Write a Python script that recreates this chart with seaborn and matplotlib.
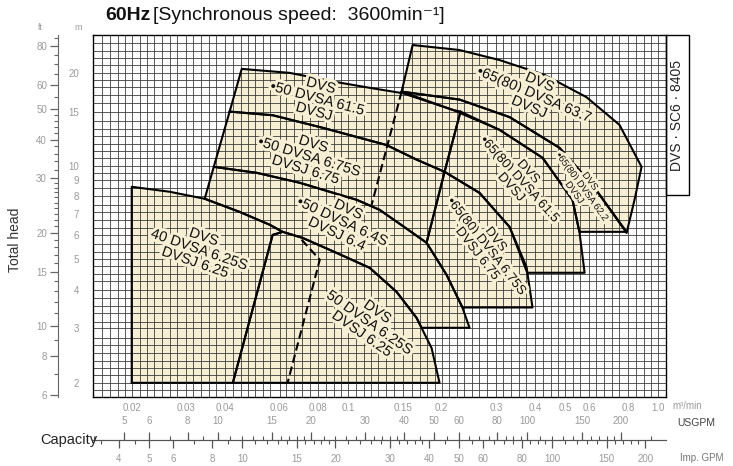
import matplotlib
matplotlib.use("Agg")
import matplotlib.pyplot as plt
import matplotlib.patheffects as pe
from matplotlib.patches import Rectangle
from matplotlib.ticker import FixedLocator, NullFormatter
import seaborn as sns
import pandas as pd

# log paper steps per decade (R40 series)
r40 = [1.0, 1.06, 1.12, 1.18, 1.25, 1.32, 1.4, 1.5, 1.6, 1.7, 1.8, 1.9,
       2.0, 2.12, 2.24, 2.36, 2.5, 2.65, 2.8, 3.0, 3.15, 3.35, 3.55, 3.75,
       4.0, 4.25, 4.5, 4.75, 5.0, 5.3, 5.6, 6.0, 6.3, 6.7, 7.1, 7.5,
       8.0, 8.5, 9.0, 9.5]

# tick values / labels
q_ticks = [0.02, 0.03, 0.04, 0.06, 0.08, 0.1, 0.15, 0.2, 0.3, 0.4, 0.5, 0.6, 0.8, 1.0]
q_labels = ["0.02", "0.03", "0.04", "0.06", "0.08", "0.1", "0.15", "0.2",
            "0.3", "0.4", "0.5", "0.6", "0.8", "1.0"]
h_ticks = [2, 3, 4, 5, 6, 7, 8, 9, 10, 15, 20]
ft_major = [6, 8, 10, 15, 20, 30, 40, 50, 60, 80]
ft_minor = [7, 9, 11, 12, 13, 14, 16, 17, 18, 19, 21, 22, 23, 24, 25, 26, 27, 28, 29,
            32, 34, 36, 38, 42, 44, 46, 48, 55, 65, 70, 75, 85]
us_major = [5, 6, 8, 10, 15, 20, 30, 40, 50, 60, 80, 100, 150, 200]
us_minor = [4, 7, 9, 11, 12, 13, 14, 16, 17, 18, 19, 22, 24, 26, 28, 32, 34, 36, 38,
            45, 55, 65, 70, 75, 85, 90, 95, 110, 120, 130, 140, 160, 170, 180, 190, 250]
imp_major = [4, 5, 6, 8, 10, 15, 20, 30, 40, 50, 60, 80, 100, 150, 200]
imp_minor = [3.5, 4.5, 7, 9, 11, 12, 13, 14, 16, 17, 18, 19, 22, 24, 26, 28, 32, 34, 36, 38,
             45, 55, 65, 70, 75, 85, 90, 95, 110, 120, 130, 140, 160, 170, 180, 190]

# selection regions: capacity (m3/min) and total head (m) of each outline
q_40_625 = [0.02, 0.02, 0.0265, 0.0344, 0.0446, 0.0558, 0.0614, 0.057, 0.0424]
h_40_625 = [2.0, 8.58, 8.27, 7.85, 7.12, 6.47, 6.14, 6.0, 2.0]

q_50_625 = [0.0424, 0.057, 0.0614, 0.0712, 0.0917, 0.1172, 0.1432, 0.1661, 0.1857, 0.197]
h_50_625 = [2.0, 6.0, 6.14, 5.87, 5.25, 4.70, 3.93, 3.24, 2.59, 2.0]

q_50_64 = [0.0344, 0.0368, 0.0506, 0.0697, 0.087, 0.1064, 0.1262, 0.1497, 0.1789, 0.2076,
           0.2337, 0.2462, 0.1724, 0.1661, 0.1432, 0.1172, 0.0917, 0.0712, 0.0614, 0.0558, 0.0446]
h_50_64 = [7.85, 9.95, 9.52, 8.84, 8.27, 7.79, 7.23, 6.42, 5.66, 4.46,
           3.49, 3.01, 3.01, 3.24, 3.93, 4.70, 5.25, 5.87, 6.14, 6.47, 7.12]

q_50_675 = [0.0368, 0.0414, 0.057, 0.0827, 0.1329, 0.1661, 0.2045, 0.1789,
            0.1497, 0.1262, 0.1064, 0.087, 0.0697, 0.0506]
h_50_675 = [9.95, 15.0, 14.6, 13.3, 11.7, 10.5, 9.59, 5.66,
            6.42, 7.23, 7.79, 8.27, 8.84, 9.52]

q_50_615 = [0.0414, 0.0453, 0.0647, 0.0938, 0.1172, 0.1497, 0.217, 0.2302, 0.2045,
            0.1661, 0.1329, 0.0827, 0.057]
h_50_615 = [15.0, 20.6, 20.0, 18.6, 17.9, 17.2, 15.2, 15.0, 9.59,
            10.5, 11.7, 13.3, 14.6]

q_65_675 = [0.2045, 0.1789, 0.2076, 0.2337, 0.3931, 0.376, 0.3314, 0.2652]
h_65_675 = [9.59, 5.66, 4.46, 3.5, 3.5, 4.73, 6.37, 8.20]

q_65_615 = [0.2302, 0.2045, 0.2652, 0.3314, 0.378, 0.579, 0.557, 0.529, 0.4236, 0.3077]
h_65_615 = [15.0, 9.59, 8.20, 6.37, 4.53, 4.53, 6.14, 7.79, 10.64, 13.1]

q_65_622 = [0.1486, 0.217, 0.3077, 0.4236, 0.529, 0.557, 0.791, 0.614, 0.4805, 0.3314, 0.2286]
h_65_622 = [17.4, 15.2, 13.1, 10.64, 7.79, 6.14, 6.14, 8.70, 11.46, 14.4, 16.4]

q_65_637 = [0.1486, 0.1613, 0.2286, 0.3077, 0.43, 0.587, 0.75, 0.884, 0.839, 0.791,
            0.614, 0.4805, 0.3314, 0.2286]
h_65_637 = [17.4, 24.6, 23.7, 22.0, 19.7, 16.7, 13.6, 9.95, 7.79, 6.09,
            8.70, 11.46, 14.4, 16.4]

# dashed boundaries
q_dash_50 = [0.0707, 0.0809, 0.0637]
h_dash_50 = [5.79, 4.99, 2.0]
q_dash_65 = [0.1486, 0.1189]
h_dash_65 = [17.4, 7.50]

# region labels: text, capacity, head, rotation, size
labels = [
    ("DVS\n40 DVSA 6.25S\nDVSJ 6.25", 0.0331, 5.37, -19, 10.5),
    ("DVS\n50 DVSA 6.25S\nDVSJ 6.25", 0.1172, 3.12, -35, 10.5),
    ("DVS\n•50 DVSA 6.4S\nDVSJ 6.4", 0.0959, 6.61, -25, 10.5),
    ("DVS\n•50 DVSA 6.75S\nDVSJ 6.75", 0.075, 10.7, -17, 10.5),
    ("DVS\n•50 DVSA 61.5\nDVSJ", 0.0796, 16.5, -15, 10.5),
    ("DVS\n•65(80) DVSA 63.7\nDVSJ", 0.399, 17.0, -23, 10.5),
    ("DVS\n•65(80) DVSA 62.2\nDVSJ", 0.570, 8.58, -54, 7),
    ("DVS\n•65(80) DVSA 61.5\nDVSJ", 0.357, 9.03, -48, 9.5),
    ("DVS\n•65(80) DVSA 6.75S\nDVSJ 6.75", 0.279, 5.49, -52, 9.5),
]

regions = [
    ("40 6.25S", q_40_625, h_40_625),
    ("50 6.25S", q_50_625, h_50_625),
    ("50 6.4S", q_50_64, h_50_64),
    ("50 6.75S", q_50_675, h_50_675),
    ("50 61.5", q_50_615, h_50_615),
    ("65 6.75S", q_65_675, h_65_675),
    ("65 61.5", q_65_615, h_65_615),
    ("65 62.2", q_65_622, h_65_622),
    ("65 63.7", q_65_637, h_65_637),
]

sns.set_style("white")
plt.rcParams["font.family"] = ["Liberation Sans", "DejaVu Sans"]

CREAM = "#f7efd4"
GRAY = "#9a9a9a"

fig = plt.figure(figsize=(7.33, 4.66), dpi=100)
ax = fig.add_axes([93 / 733, 69 / 466, 573 / 733, 362 / 466])
ax.set_xscale("log")
ax.set_yscale("log")
ax.set_xlim(0.015, 1.06)
ax.set_ylim(1.8, 26.5)

rows = []
for name, q, h in regions:
    ax.fill(q, h, color=CREAM, lw=0, zorder=0.2)
    for i, (a, b) in enumerate(zip(q + q[:1], h + h[:1])):
        rows.append({"region": name, "i": i, "q": a, "h": b})
outline = pd.DataFrame(rows)
sns.lineplot(data=outline, x="q", y="h", units="region", estimator=None, sort=False,
             color="black", lw=1.5, ax=ax, zorder=2)
ax.plot(q_dash_50, h_dash_50, color="black", lw=1.5, ls=(0, (4, 2)), zorder=2)
ax.plot(q_dash_65, h_dash_65, color="black", lw=1.5, ls=(0, (4, 2)), zorder=2)

for txt, q, h, rot, size in labels:
    ax.text(q, h, txt, rotation=rot, rotation_mode="anchor", ha="center", va="center",
            fontsize=size, linespacing=0.95, zorder=3, color="#111",
            path_effects=[pe.withStroke(linewidth=4.5, foreground=CREAM)])

# grid on the R40 steps only
grid_q = [v * 10 ** k for k in (-2, -1, 0) for v in r40 if 0.015 <= v * 10 ** k <= 1.06]
grid_h = [v * 10 ** k for k in (0, 1) for v in r40 if 1.8 <= v * 10 ** k <= 26.5]
ax.set_xticks(q_ticks, q_labels)
ax.set_yticks(h_ticks, [str(v) for v in h_ticks])
ax.xaxis.set_minor_locator(FixedLocator(grid_q))
ax.yaxis.set_minor_locator(FixedLocator(grid_h))
ax.xaxis.remove_overlapping_locs = False
ax.yaxis.remove_overlapping_locs = False
ax.xaxis.set_minor_formatter(NullFormatter())
ax.yaxis.set_minor_formatter(NullFormatter())
ax.set_axisbelow(True)
ax.grid(which="minor", color="#3c3c3c", lw=0.6)
ax.grid(which="major", visible=False)
ax.tick_params(which="both", length=0)
ax.tick_params(axis="x", pad=4, labelsize=7, labelcolor=GRAY)
ax.tick_params(axis="y", pad=10, labelsize=7, labelcolor=GRAY)
ax.set_xlabel("")
ax.set_ylabel("")
for s in ax.spines.values():
    s.set_color("black")
    s.set_linewidth(1.0)

# head in feet
ft = ax.secondary_yaxis(-0.061, functions=(lambda m: m / 0.3048, lambda f: f * 0.3048))
ft.set_yticks(ft_major, [str(v) for v in ft_major])
ft.set_yticks(ft_minor, minor=True)
ft.yaxis.set_minor_formatter(NullFormatter())
ft.tick_params(which="major", length=6, width=0.9, color="#666", labelsize=7,
               labelcolor=GRAY, pad=2)
ft.tick_params(which="minor", length=3, width=0.8, color="#666")
ft.spines["left"].set_color("#666")

# capacity in gallons
us = ax.secondary_xaxis(-0.119, functions=(lambda q: q * 264.17, lambda g: g / 264.17))
us.set_alignment("top")
us.set_xticks(us_major, [str(v) for v in us_major])
us.set_xticks(us_minor, minor=True)
us.xaxis.set_minor_formatter(NullFormatter())
us.tick_params(which="major", length=6, width=0.9, color="#555", labelsize=7,
               labelcolor=GRAY, pad=4)
us.tick_params(which="minor", length=3, width=0.8, color="#555")

imp = ax.secondary_xaxis(-0.119, functions=(lambda q: q * 219.97, lambda g: g / 219.97))
imp.set_xticks(imp_major, [str(v) for v in imp_major])
imp.set_xticks(imp_minor, minor=True)
imp.xaxis.set_minor_formatter(NullFormatter())
imp.tick_params(which="major", length=6, width=0.9, color="#555", labelsize=7,
                labelcolor=GRAY, pad=4)
imp.tick_params(which="minor", length=3, width=0.8, color="#555")
for a in (us, imp):
    for s in a.spines.values():
        s.set_color("#555")

# side tag
ax.add_patch(Rectangle((1.0, 0.558), 0.04, 0.442, transform=ax.transAxes, fill=False,
                       ec="black", lw=1.0, clip_on=False))
ax.text(1.02, 0.779, "DVS · SC6 · 8405", transform=ax.transAxes, rotation=90,
        ha="center", va="center", fontsize=10, color="#222")

# texts around the chart
fig.text(105 / 733, 1 - 16 / 466, "60Hz", fontsize=14, fontweight="bold",
         ha="left", va="center", color="#111")
fig.text(153 / 733, 1 - 16 / 466, "[Synchronous speed:  3600min⁻¹]", fontsize=14,
         ha="left", va="center", color="#111")
fig.text(40 / 733, 1 - 28 / 466, "ft", fontsize=6.5, color=GRAY, ha="center", va="center")
fig.text(78 / 733, 1 - 28 / 466, "m", fontsize=6.5, color=GRAY, ha="center", va="center")
fig.text(15 / 733, 1 - 240 / 466, "Total head", rotation=90, fontsize=10, color="#333",
         ha="center", va="center")
fig.text(97 / 733, 1 - 440 / 466, "Capacity", fontsize=10.5, color="#222",
         ha="right", va="center")
fig.text(672 / 733, 1 - 406 / 466, "m³/min", fontsize=7, color=GRAY, ha="left", va="center")
fig.text(677 / 733, 1 - 423 / 466, "USGPM", fontsize=7.5, color="#444", ha="left", va="center")
fig.text(680 / 733, 1 - 458 / 466, "Imp. GPM", fontsize=7, color="#777", ha="left", va="center")

fig.savefig("out.png", dpi=100)
